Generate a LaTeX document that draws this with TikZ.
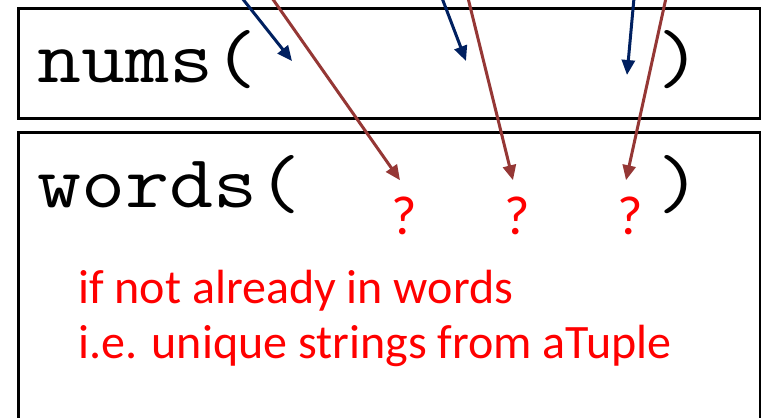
\documentclass[tikz,border=0pt]{standalone}
\usepackage{fontspec}
\usepackage{graphicx}
\newfontfamily\notefont{Carlito}
\usetikzlibrary{arrows.meta}
\definecolor{arrowblue}{RGB}{0,32,96}
\definecolor{arrowred}{RGB}{149,55,53}
\definecolor{notered}{RGB}{255,0,0}
\newcommand{\codetext}[1]{\scalebox{1.14}[1]{#1}}

\begin{document}
\begin{tikzpicture}[x=1pt,y=-1pt,
    box/.style={rectangle,draw,line width=2.5pt,anchor=north west,inner sep=0pt},
    code/.style={font=\fontsize{75}{90}\selectfont\ttfamily,inner sep=0pt,anchor=base},
    qmark/.style={font=\fontsize{55}{60}\selectfont\notefont,text=notered,inner sep=0pt,anchor=base},
    note/.style={font=\fontsize{48}{55}\selectfont\notefont,text=notered,inner sep=0pt,
                 align=left,anchor=base west},
    bluearrow/.style={-{Triangle[length=15pt,width=13pt]},line width=3pt,arrowblue},
    redarrow/.style={-{Triangle[length=15pt,width=13pt]},line width=3pt,arrowred}
]
    \useasboundingbox (0,0) rectangle (761,418);
    \clip (0,0) rectangle (761,418);
    \node[box,minimum width=742pt,minimum height=110pt] (numsbox) at (17,7) {};
    \node[box,minimum width=742pt,minimum height=300pt] (wordsbox) at (17,131) {};
    \node[code,anchor=base west] (nums) at (37,82) {\codetext{nums(}};
    \node[code] (numsclose) at (680,82) {\codetext{)}};
    \node[code,anchor=base west] (words) at (37,207) {\codetext{words(}};
    \node[code] (wordsclose) at (680,207) {\codetext{)}};
    \node[qmark] (q1) at (404,234) {?};
    \node[qmark] (q2) at (517,234) {?};
    \node[qmark] (q3) at (630,234) {?};
    \node[note] (unique) at (78,358) {if not already in words\\i.e. unique strings from aTuple};
    \coordinate (b1) at (242,-2);
    \coordinate (b2) at (442,-2);
    \coordinate (b3) at (634,-2);
    \coordinate (e1) at (292,61);
    \coordinate (e2) at (466,61);
    \coordinate (e3) at (627,75);
    \coordinate (r1) at (272,-2);
    \coordinate (r2) at (468,-2);
    \coordinate (r3) at (666,-2);
    \draw[bluearrow] (b1) -- (e1);
    \draw[bluearrow] (b2) -- (e2);
    \draw[bluearrow] (b3) -- (e3);
    \draw[redarrow] (r1) -- ([xshift=-4pt,yshift=16pt]q1.north);
    \draw[redarrow] (r2) -- ([xshift=-4pt,yshift=16pt]q2.north);
    \draw[redarrow] (r3) -- ([xshift=-4pt,yshift=16pt]q3.north);
\end{tikzpicture}
\end{document}
